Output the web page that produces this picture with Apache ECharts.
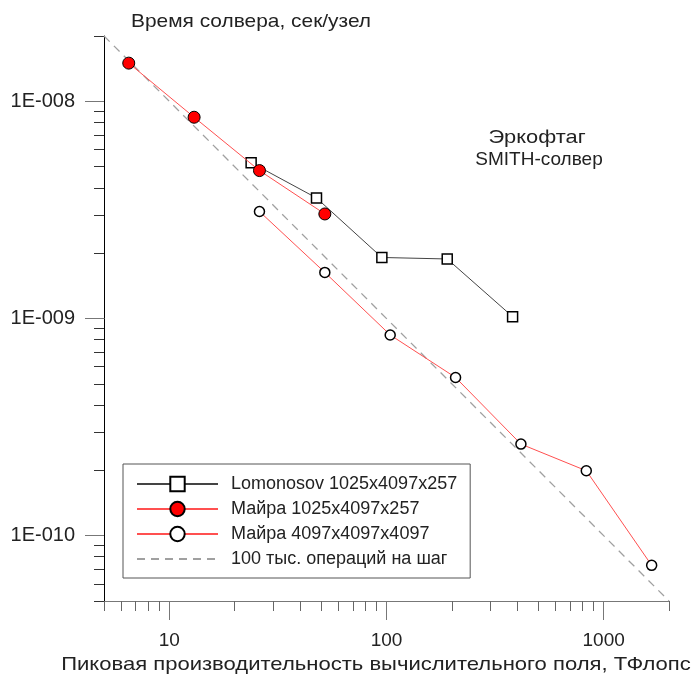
<!DOCTYPE html>
<html><head><meta charset="utf-8">
<script src="https://cdn.jsdelivr.net/npm/echarts@6/dist/echarts.min.js"></script>
<style>html,body{margin:0;padding:0;background:#fff}#c{width:691px;height:674px}</style>
</head><body><div id="c"></div>
<script>
// ---- data ----
const lomX = [23.8, 47.6, 95.2, 190.4, 380.8];
const lomY = [5.22e-9, 3.59e-9, 1.91e-9, 1.88e-9, 1.02e-9];
const mayraSmallX = [6.5, 13, 26, 52];
const mayraSmallY = [1.50e-8, 8.45e-9, 4.80e-9, 3.03e-9];
const mayraBigX = [26, 52, 104, 208, 416, 832, 1664];
const mayraBigY = [3.11e-9, 1.63e-9, 8.4e-10, 5.35e-10, 2.64e-10, 1.99e-10, 7.3e-11];
const refX = [5, 2000];
const refY = [2e-8, 5e-11];
const seriesNames = ['Lomonosov 1025x4097x257', 'Майра 1025x4097x257', 'Майра 4097x4097x4097', '100 тыс. операций на шаг'];

const xMin = 5, xMax = 2000, yMin = 5e-11, yMax = 2e-8;
const xMajorTicks = [10, 100, 1000];
const xTickLabels = ['10', '100', '1000'];
const xMinorTicks = [5,6,7,8,9,20,30,40,50,60,70,80,90,200,300,400,500,600,700,800,900,2000];
const yMajorTicks = [1e-10, 1e-9, 1e-8];
const yTickLabels = ['1E-010', '1E-009', '1E-008'];
const yMinorTicks = [5e-11,6e-11,7e-11,8e-11,9e-11,2e-10,3e-10,4e-10,5e-10,6e-10,7e-10,8e-10,9e-10,2e-9,3e-9,4e-9,5e-9,6e-9,7e-9,8e-9,9e-9,2e-8];

const L = Math.log10;
const zip = (a, b) => a.map((v, i) => [v, b[i]]);
const FONT = '"Liberation Sans", Arial, sans-serif';
const labelFor = (ticks, labels) => v => {
  for (let i = 0; i < ticks.length; i++) if (Math.abs(L(ticks[i]) - v) < 1e-6) return labels[i];
  return '';
};

const chart = echarts.init(document.getElementById('c'));
const tickOverlay = (pos, min, max, vals, len, color, labels) => ({
  type: 'value', gridIndex: 0, position: pos, min: L(min), max: L(max),
  axisLine: {show: false}, splitLine: {show: false},
  axisTick: {show: true, customValues: vals.map(L), length: len, lineStyle: {color: color, width: 1}},
  axisLabel: labels ? {show: true, customValues: labels.ticks.map(L), formatter: labelFor(labels.ticks, labels.text),
    fontFamily: FONT, fontSize: labels.size, color: '#222', margin: labels.margin} : {show: false}
});

chart.setOption({
  animation: false,
  backgroundColor: '#fff',
  grid: {left: 104, top: 36, width: 565, height: 565, containLabel: false},
  xAxis: [
    {type: 'log', logBase: 10, min: xMin, max: xMax, position: 'bottom',
     axisLine: {show: true, lineStyle: {color: '#777', width: 1}}, axisTick: {show: false},
     axisLabel: {show: false}, splitLine: {show: false}, minorTick: {show: false}},
    tickOverlay('bottom', xMin, xMax, xMajorTicks, 19, '#777', {ticks: xMajorTicks, text: xTickLabels, size: 19, margin: 30}),
    tickOverlay('bottom', xMin, xMax, xMinorTicks, 10, '#666', null)
  ],
  yAxis: [
    {type: 'log', logBase: 10, min: yMin, max: yMax, position: 'left',
     axisLine: {show: true, lineStyle: {color: '#000', width: 1}}, axisTick: {show: false},
     axisLabel: {show: false}, splitLine: {show: false}, minorTick: {show: false}},
    tickOverlay('left', yMin, yMax, yMajorTicks, 19, '#777', {ticks: yMajorTicks, text: yTickLabels, size: 20, margin: 29}),
    tickOverlay('left', yMin, yMax, yMinorTicks, 10, '#333', null)
  ],
  legend: {
    orient: 'vertical', left: 123, top: 464,
    padding: [11, 13, 10, 13],
    itemWidth: 81, itemHeight: 18, itemGap: 7,
    borderColor: '#555', borderWidth: 1, borderRadius: 0, backgroundColor: '#fff',
    textStyle: {fontFamily: FONT, fontSize: 18, color: '#222', padding: [0, 0, 0, 8]},
    selectedMode: false,
    data: [seriesNames[0], seriesNames[1], seriesNames[2],
      {name: seriesNames[3], itemStyle: {color: 'rgba(0,0,0,0)', borderColor: 'rgba(0,0,0,0)', borderWidth: 0}}]
  },
  series: [
    {name: seriesNames[3], type: 'line', xAxisIndex: 0, yAxisIndex: 0, data: zip(refX, refY),
     symbol: 'none', silent: true, z: 1,
     lineStyle: {color: '#a0a0a0', width: 1.3, type: [8, 6]}, itemStyle: {color: 'rgba(0,0,0,0)', borderColor: 'rgba(0,0,0,0)'}},
    {name: seriesNames[0], type: 'line', xAxisIndex: 0, yAxisIndex: 0, data: zip(lomX, lomY),
     symbol: 'rect', symbolSize: 10, z: 2,
     lineStyle: {color: '#444', width: 1}, itemStyle: {color: '#fff', borderColor: '#000', borderWidth: 1.5}},
    {name: seriesNames[1], type: 'line', xAxisIndex: 0, yAxisIndex: 0, data: zip(mayraSmallX, mayraSmallY),
     symbol: 'circle', symbolSize: 12, z: 3,
     lineStyle: {color: '#ff5050', width: 1}, itemStyle: {color: '#ff0000', borderColor: '#000', borderWidth: 1}},
    {name: seriesNames[2], type: 'line', xAxisIndex: 0, yAxisIndex: 0, data: zip(mayraBigX, mayraBigY),
     symbol: 'circle', symbolSize: 10, z: 3,
     lineStyle: {color: '#ff5050', width: 1}, itemStyle: {color: '#fff', borderColor: '#000', borderWidth: 1.5}}
  ],
  graphic: [
    {type: 'text', x: 131, y: 22, scaleX: 1.10, style: {text: 'Время солвера, сек/узел', font: '19px ' + FONT, fill: '#222', align: 'left', verticalAlign: 'middle'}},
    {type: 'text', x: 537, y: 138, scaleX: 1.15, style: {text: 'Эркофтаг', font: '19px ' + FONT, fill: '#222', align: 'center', verticalAlign: 'middle'}},
    {type: 'text', x: 539, y: 160, style: {text: 'SMITH-солвер', font: '19px ' + FONT, fill: '#222', align: 'center', verticalAlign: 'middle'}},
    {type: 'text', x: 376, y: 665, scaleX: 1.16, style: {text: 'Пиковая производительность вычислительного поля, ТФлопс', font: '19px ' + FONT, fill: '#222', align: 'center', verticalAlign: 'middle'}}
  ]
});
</script></body></html>
